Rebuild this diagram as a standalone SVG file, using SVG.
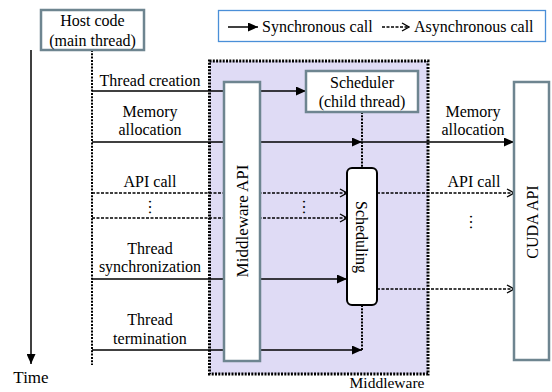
<svg xmlns="http://www.w3.org/2000/svg" width="552" height="392" viewBox="0 0 552 392">
<defs>
<style>
text{font-family:"Liberation Serif","Times New Roman",serif;font-size:16px;fill:#000}
.c{text-anchor:middle}
.sol{stroke:#000;stroke-width:1.5;fill:none}
.das{stroke:#000;stroke-width:1.3;fill:none;stroke-dasharray:3 1.5}
.dot{stroke:#000;stroke-width:2;fill:none;stroke-dasharray:2 1.3}
.box{fill:#fff;stroke:#6e8590;stroke-width:2.5}
</style>
<marker id="fa" markerUnits="userSpaceOnUse" markerWidth="10" markerHeight="9" refX="10" refY="4.5" orient="auto">
<path d="M0,0 L10,4.5 L0,9 z" fill="#000"/>
</marker>
<marker id="oa" markerUnits="userSpaceOnUse" markerWidth="9" markerHeight="10" refX="8" refY="5" orient="auto">
<path d="M1,1 L8,5 L1,9" fill="none" stroke="#000" stroke-width="1.3"/>
</marker>
</defs>
<rect width="552" height="392" fill="#fff"/>

<g id="middleware">
<rect x="209.5" y="61" width="218.5" height="313" fill="#dfdbf5"/>
<rect x="209.5" y="61" width="218.5" height="313" fill="none" stroke="#000" stroke-width="3" stroke-dasharray="2 1.3"/>
<text class="c" x="387" y="388" style="font-size:15.5px">Middleware</text>
</g>

<g id="legend">
<rect x="218.5" y="10.5" width="327" height="31" fill="#fff" stroke="#4a8fd8" stroke-width="1.3"/>
<path class="sol" d="M228,27 L258,27" marker-end="url(#fa)"/>
<text x="262" y="32">Synchronous call</text>
<path class="das" d="M382,27 L409,27" marker-end="url(#oa)"/>
<text x="414" y="32">Asynchronous call</text>
</g>

<g id="connectors">
<path class="sol" d="M31,50 L31,364" marker-end="url(#fa)"/>
<path class="dot" d="M92,50 L92,365" stroke-width="1.5"/>
<path class="dot" d="M362,112 L362,168"/>
<path class="dot" d="M362,305 L362,350"/>
<path class="sol" d="M92,91 L306,91" marker-end="url(#fa)"/>
<path class="sol" d="M92,142 L362,142" marker-end="url(#fa)"/>
<path class="sol" d="M362,142 L514,142" marker-end="url(#fa)"/>
<path class="das" d="M92,193 L347,193" marker-end="url(#oa)"/>
<path class="das" d="M92,218 L347,218" marker-end="url(#oa)"/>
<path class="das" d="M377,193 L514,193" marker-end="url(#oa)"/>
<path class="sol" d="M92,279 L347,279" marker-end="url(#fa)"/>
<path class="das" d="M377,289 L514,289" marker-end="url(#oa)"/>
<path class="sol" d="M92,350 L362,350" marker-end="url(#fa)"/>
<text class="c" x="150" y="86">Thread creation</text>
<text class="c" x="150" y="117">Memory</text>
<text class="c" x="150" y="135">allocation</text>
<text class="c" x="150" y="187">API call</text>
<text class="c" transform="translate(149,207) rotate(90)">…</text>
<text class="c" transform="translate(303,207) rotate(90)">…</text>
<text class="c" transform="translate(470,222) rotate(90)">…</text>
<text class="c" x="150" y="254">Thread</text>
<text class="c" x="150" y="272">synchronization</text>
<text class="c" x="150" y="325">Thread</text>
<text class="c" x="150" y="344">termination</text>
<text class="c" x="473" y="117">Memory</text>
<text class="c" x="473" y="135">allocation</text>
<text class="c" x="474" y="187">API call</text>
</g>

<g id="host">
<rect class="box" x="41" y="10" width="103" height="40"/>
<text class="c" x="92.5" y="26">Host code</text>
<text class="c" x="92.5" y="46">(main thread)</text>
</g>

<g id="time">
<text class="c" x="31" y="383" style="font-size:17px">Time</text>
</g>

<g id="middleware-api">
<rect class="box" x="224" y="82" width="36" height="279"/>
<text class="c" transform="translate(248,221) rotate(-90)" style="font-size:17px">Middleware API</text>
</g>

<g id="scheduler">
<rect class="box" x="306" y="71" width="112" height="41"/>
<text class="c" x="362" y="88">Scheduler</text>
<text class="c" x="362" y="107">(child thread)</text>
</g>

<g id="scheduling">
<rect x="347" y="168" width="30" height="137" rx="5" fill="#fff" stroke="#000" stroke-width="2"/>
<text class="c" transform="translate(356,237) rotate(90)">Scheduling</text>
</g>

<g id="cuda-api">
<rect class="box" x="514" y="82" width="35" height="278"/>
<text class="c" transform="translate(538,222) rotate(-90)">CUDA API</text>
</g>
</svg>
